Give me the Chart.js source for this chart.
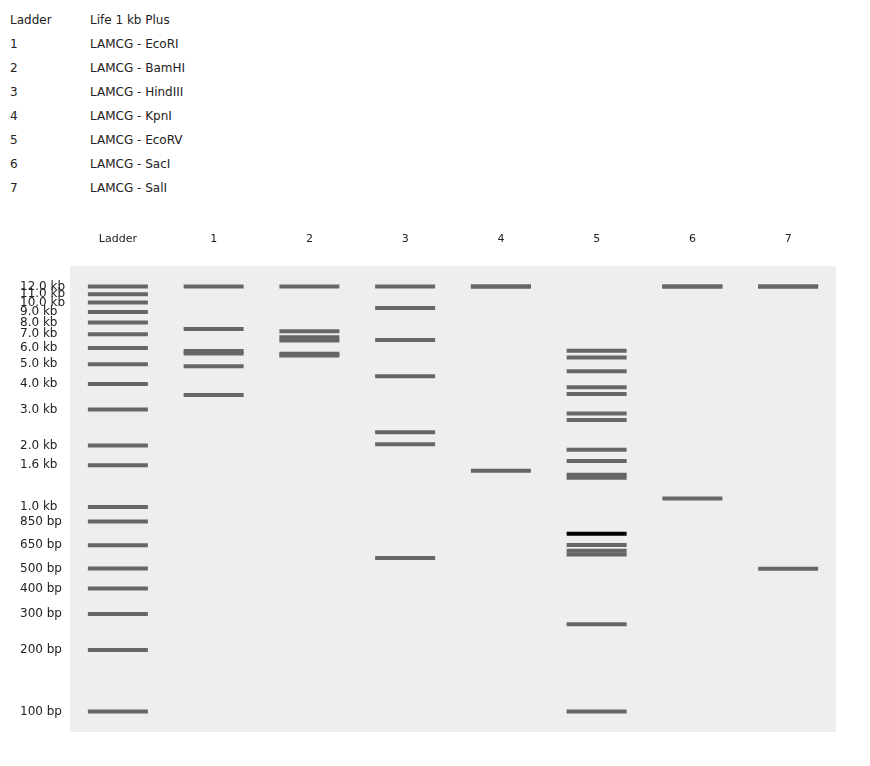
<!DOCTYPE html>
<html>
<head>
<meta charset="utf-8">
<script src="https://cdn.jsdelivr.net/npm/chart.js@4/dist/chart.umd.min.js"></script>
<style>
  html, body { margin: 0; background: #fff; font-family: "DejaVu Sans", sans-serif; overflow: hidden; }
  #legend { position: absolute; left: 10px; top: 12px; font-size: 12px; color: #222; }
  #legend div { height: 24px; line-height: 16px; }
  #legend span { display: inline-block; width: 80px; }
  #gel { position: absolute; left: 0; top: 230px; }
</style>
</head>
<body>
<div id="legend"></div>
<canvas id="gel" width="870" height="536" style="width:870px;height:536px"></canvas>
<script>
// Lane names
const laneIds = ['Ladder', '1', '2', '3', '4', '5', '6', '7'];
const laneNames = ['Life 1 kb Plus', 'LAMCG - EcoRI', 'LAMCG - BamHI', 'LAMCG - HindIII',
                   'LAMCG - KpnI', 'LAMCG - EcoRV', 'LAMCG - SacI', 'LAMCG - SalI'];

// Ladder sizes (bp) and their labels
const ladderBp = [12000, 11000, 10000, 9000, 8000, 7000, 6000, 5000, 4000, 3000,
                  2000, 1600, 1000, 850, 650, 500, 400, 300, 200, 100];
const ladderLabels = ['12.0 kb', '11.0 kb', '10.0 kb', '9.0 kb', '8.0 kb', '7.0 kb', '6.0 kb',
                      '5.0 kb', '4.0 kb', '3.0 kb', '2.0 kb', '1.6 kb', '1.0 kb', '850 bp',
                      '650 bp', '500 bp', '400 bp', '300 bp', '200 bp', '100 bp'];

// Band sizes per lane (bp)
const lane1 = [21226, 7421, 5804, 5643, 4878, 3530];
const lane2 = [16841, 7233, 6770, 6527, 5626, 5505];
const lane3 = [23130, 9416, 6557, 4361, 2322, 2027, 564];
const lane4 = [29946, 17053, 1503];
const lane5 = [5807, 5395, 4609, 3855, 3575, 2871, 2667, 1905, 1679, 1440, 1390,
               740, 652, 612, 586, 267, 100];
const lane6 = [24772, 22621, 1102];
const lane7 = [32745, 15258, 499];
const darkBands5 = [740];

const lanes = [ladderBp, lane1, lane2, lane3, lane4, lane5, lane6, lane7];
const maxShown = 12000;

document.getElementById('legend').innerHTML = laneIds.map(function(id, i) {
    return '<div><span>' + id + '</span>' + laneNames[i] + '</div>';
}).join('');

// Build points: bands above the top ladder band sit at the top position
const points = [], colors = [];
lanes.forEach(function(bands, lane) {
    bands.forEach(function(bp) {
        points.push({ x: lane, y: Math.min(bp, maxShown) });
        colors.push(lane === 5 && darkBands5.indexOf(bp) >= 0 ? '#000000' : '#666666');
    });
});

const gelBackground = {
    id: 'gelBackground',
    beforeDraw: function(chart) {
        const a = chart.chartArea, ctx = chart.ctx;
        ctx.save();
        ctx.fillStyle = '#eeeeee';
        ctx.fillRect(a.left, a.top, a.right - a.left, a.bottom - a.top);
        ctx.restore();
    }
};

Chart.defaults.font.family = '"DejaVu Sans", sans-serif';
Chart.defaults.font.size = 12;
Chart.defaults.color = '#222';

new Chart(document.getElementById('gel'), {
    type: 'scatter',
    data: {
        datasets: [{
            data: points,
            pointStyle: 'line',
            radius: 30,
            hoverRadius: 30,
            borderWidth: 4,
            hoverBorderWidth: 4,
            borderColor: colors,
            backgroundColor: colors
        }]
    },
    options: {
        responsive: false,
        devicePixelRatio: 1,
        animation: false,
        events: [],
        layout: { padding: { left: 20, right: 0, top: 0, bottom: 0 } },
        plugins: { legend: { display: false }, tooltip: { enabled: false } },
        scales: {
            x: {
                type: 'linear',
                position: 'top',
                min: -0.5,
                max: 7.5,
                grid: { display: false },
                border: { display: false },
                afterBuildTicks: function(axis) {
                    axis.ticks = laneIds.map(function(_, i) { return { value: i }; });
                },
                afterFit: function(axis) { axis.height = 36; },
                ticks: {
                    padding: 12,
                    maxRotation: 0,
                    font: { size: 11 },
                    callback: function(v) { return laneIds[v]; }
                }
            },
            y: {
                type: 'logarithmic',
                min: 79.4,
                max: 15100,
                grid: { display: false },
                border: { display: false },
                afterBuildTicks: function(axis) {
                    axis.ticks = ladderBp.map(function(v) { return { value: v }; });
                },
                afterFit: function(axis) { axis.width = 50; },
                ticks: {
                    crossAlign: 'far',
                    padding: 0,
                    autoSkip: false,
                    callback: function(v) {
                        const i = ladderBp.indexOf(v);
                        return i >= 0 ? ladderLabels[i] : '';
                    }
                }
            }
        }
    },
    plugins: [gelBackground]
});
</script>
</body>
</html>
